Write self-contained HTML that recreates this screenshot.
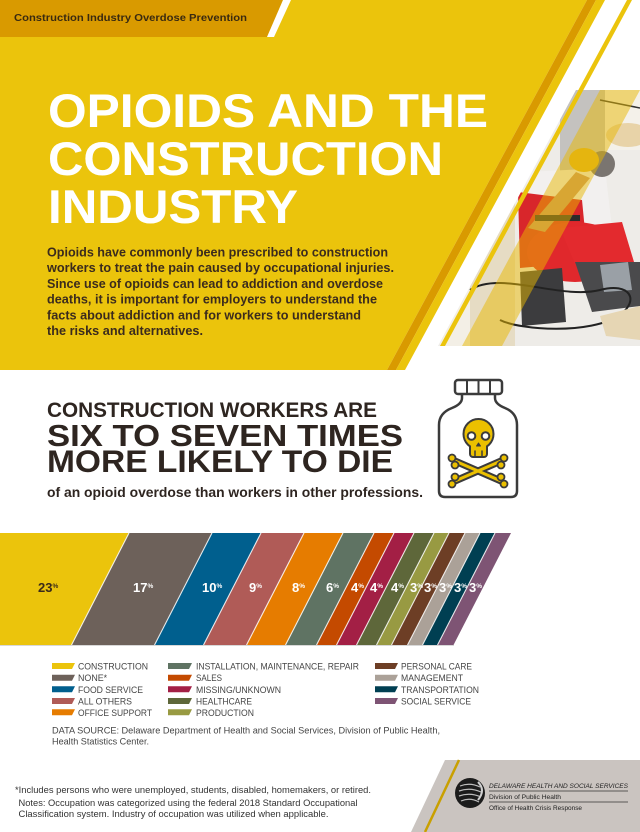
<!DOCTYPE html>
<html><head><meta charset="utf-8"><style>
html,body{margin:0;padding:0;background:#fff;}
svg{display:block;}
text{font-family:"Liberation Sans",Arial,sans-serif;}
</style></head><body>
<svg width="640" height="832" viewBox="0 0 640 832" xmlns="http://www.w3.org/2000/svg">
<defs>
<clipPath id="ph"><polygon points="576,90 640,90 640,346 438,346"/></clipPath>
</defs>
<rect width="640" height="832" fill="#fff"/>
<!-- top yellow section -->
<polygon points="0,0 587,0 387,370 0,370" fill="#ebc40c"/>
<polygon points="587,0 596,0 396,370 387,370" fill="#d99a00"/>
<polygon points="596,0 605,0 405,370 396,370" fill="#ebc40c"/>
<!-- header band -->
<polygon points="0,0 283,0 267,37 0,37" fill="#d99a00"/>
<polygon points="283,0 291,0 274,37 267,37" fill="#fff"/>
<text x="14" y="21" font-size="10.5" font-weight="bold" fill="#3a2a10" textLength="233" lengthAdjust="spacingAndGlyphs">Construction Industry Overdose Prevention</text>

<!-- photo -->
<g clip-path="url(#ph)">
<rect x="430" y="90" width="210" height="256" fill="#eeece8"/>
<rect x="560" y="90" width="45" height="110" fill="#c4c2bf"/>
<rect x="605" y="90" width="35" height="60" fill="#f4f1ea"/>
<polygon points="470,200 515,200 515,346 470,346" fill="#e6dcc4"/>
<polygon points="440,260 470,260 470,346 440,346" fill="#f3efe6"/>
<ellipse cx="628" cy="135" rx="22" ry="12" fill="#e8d3a8"/>
<!-- worker -->
<polygon points="527,172 605,168 612,228 527,228" fill="#f2f0ef"/>
<polygon points="518,192 582,200 588,262 520,268" fill="#d8262b"/>
<ellipse cx="575" cy="252" rx="48" ry="30" fill="#e0282c"/>
<polygon points="560,228 622,222 634,262 585,288" fill="#e32a2e"/>
<polygon points="520,272 562,268 566,322 522,326" fill="#3c3c3e"/>
<polygon points="575,262 640,262 640,306 592,312" fill="#4a4a4c"/>
<polygon points="600,265 628,262 632,290 604,292" fill="#9aa0a6"/>
<polygon points="528,228 576,172 590,178 545,232" fill="#c99566"/>
<circle cx="602" cy="164" r="13" fill="#7a7570"/>
<ellipse cx="584" cy="160" rx="15" ry="12" fill="#e2b21f"/>
<rect x="535" y="215" width="45" height="6" fill="#2b2b2b"/>
<path d="M470,290 C500,270 560,300 600,290 C630,282 640,300 620,315 C590,335 520,330 500,320" stroke="#222" stroke-width="2" fill="none"/>
<polygon points="600,316 640,306 640,340 606,336" fill="#e6d6b4"/>
<path d="M600,100 L640,108" stroke="#333" stroke-width="1.5"/>
<!-- yellow overlay band -->
<polygon points="600,90 640,90 502,346 462,346" fill="#e8b800" opacity="0.5"/>
</g>
<polygon points="627,0 632,0 445,346 440,346" fill="#ebc40c"/>

<!-- title -->
<g font-weight="bold" fill="#ffffff" font-size="47">
<text x="48" y="127" textLength="440" lengthAdjust="spacingAndGlyphs">OPIOIDS AND THE</text>
<text x="48" y="175" textLength="395" lengthAdjust="spacingAndGlyphs">CONSTRUCTION</text>
<text x="48" y="223" textLength="250" lengthAdjust="spacingAndGlyphs">INDUSTRY</text>
</g>
<g font-weight="bold" fill="#3b2b1d" font-size="12.6">
<text x="47" y="256.5" textLength="341" lengthAdjust="spacingAndGlyphs">Opioids have commonly been prescribed to construction</text>
<text x="47" y="272.2" textLength="347" lengthAdjust="spacingAndGlyphs">workers to treat the pain caused by occupational injuries.</text>
<text x="47" y="287.9" textLength="336" lengthAdjust="spacingAndGlyphs">Since use of opioids can lead to addiction and overdose</text>
<text x="47" y="303.6" textLength="330" lengthAdjust="spacingAndGlyphs">deaths, it is important for employers to understand the</text>
<text x="47" y="319.3" textLength="314" lengthAdjust="spacingAndGlyphs">facts about addiction and for workers to understand</text>
<text x="47" y="335" textLength="156" lengthAdjust="spacingAndGlyphs">the risks and alternatives.</text>
</g>

<!-- section 2 -->
<g font-weight="bold" fill="#2e2520">
<text x="47" y="417" font-size="21" textLength="330" lengthAdjust="spacingAndGlyphs">CONSTRUCTION WORKERS ARE</text>
<text x="47" y="446" font-size="31" textLength="356" lengthAdjust="spacingAndGlyphs">SIX TO SEVEN TIMES</text>
<text x="47" y="472" font-size="31.5" textLength="346" lengthAdjust="spacingAndGlyphs">MORE LIKELY TO DIE</text>
<text x="47" y="497" font-size="13.9" textLength="376" lengthAdjust="spacingAndGlyphs">of an opioid overdose than workers in other professions.</text>
</g>

<!-- bottle icon -->
<g stroke="#3b3b3b" stroke-width="2.5" stroke-linejoin="round" stroke-linecap="round">
<path d="M462,394 L462,398 Q462,404 452,408 Q439,413 439,425 L439,491 Q439,497 445,497 L511,497 Q517,497 517,491 L517,425 Q517,413 505,408 Q495,404 495,398 L495,394" fill="#fff"/>
<rect x="455" y="380" width="47" height="14" rx="3" fill="#fff"/>
<line x1="467" y1="381" x2="467" y2="393" stroke-width="2"/>
<line x1="478.5" y1="381" x2="478.5" y2="393" stroke-width="2"/>
<line x1="490" y1="381" x2="490" y2="393" stroke-width="2"/>
<!-- crossbones -->
<line x1="455" y1="461" x2="501" y2="481" stroke-width="7"/>
<line x1="455" y1="481" x2="501" y2="461" stroke-width="7"/>
<line x1="455" y1="461" x2="501" y2="481" stroke="#ebc000" stroke-width="3"/>
<line x1="455" y1="481" x2="501" y2="461" stroke="#ebc000" stroke-width="3"/>
<g fill="#ebc000" stroke-width="1.8">
<circle cx="452" cy="458" r="3.5"/><circle cx="455" cy="465" r="3.5"/>
<circle cx="504" cy="484" r="3.5"/><circle cx="501" cy="477" r="3.5"/>
<circle cx="452" cy="484" r="3.5"/><circle cx="455" cy="477" r="3.5"/>
<circle cx="504" cy="458" r="3.5"/><circle cx="501" cy="465" r="3.5"/>
</g>
<!-- skull -->
<rect x="470" y="438" width="17" height="19" rx="3" fill="#ebc000" stroke-width="2"/>
<circle cx="478.5" cy="434" r="15" fill="#ebc000" stroke-width="2"/>
<rect x="471" y="440" width="15" height="10" fill="#ebc000" stroke="none"/>
<circle cx="471.5" cy="436" r="3.8" fill="#fff" stroke-width="2"/>
<circle cx="485.5" cy="436" r="3.8" fill="#fff" stroke-width="2"/>
<path d="M476.5,446 L478.5,443 L480.5,446 Z" fill="#3b3b3b" stroke-width="1"/>
<line x1="475" y1="451" x2="475" y2="456" stroke-width="1.5"/>
<line x1="482" y1="451" x2="482" y2="456" stroke-width="1.5"/>
</g>

<!-- chart -->
<polygon points="0,533 129,533 71.5,645 0,645" fill="#ebc40c"/>
<polygon points="129,533 212,533 154.5,645 71.5,645" fill="#6d615a"/>
<polygon points="212,533 261,533 203.5,645 154.5,645" fill="#005f8e"/>
<polygon points="261,533 304,533 246.5,645 203.5,645" fill="#b05b57"/>
<polygon points="304,533 343,533 285.5,645 246.5,645" fill="#e67c00"/>
<polygon points="343,533 374,533 316.5,645 285.5,645" fill="#5f7363"/>
<polygon points="374,533 394,533 336.5,645 316.5,645" fill="#c44a00"/>
<polygon points="394,533 414,533 356.5,645 336.5,645" fill="#a31f45"/>
<polygon points="414,533 434,533 376.5,645 356.5,645" fill="#5e673a"/>
<polygon points="434,533 449,533 391.5,645 376.5,645" fill="#989a42"/>
<polygon points="449,533 465,533 407.5,645 391.5,645" fill="#6d3e25"/>
<polygon points="465,533 480,533 422.5,645 407.5,645" fill="#aba198"/>
<polygon points="480,533 495,533 437.5,645 422.5,645" fill="#003f52"/>
<polygon points="495,533 511,533 453.5,645 437.5,645" fill="#7e5474"/>
<g stroke="#ffffff" stroke-width="1.1" opacity="0.85">
<line x1="129" y1="533" x2="71.5" y2="645"/><line x1="212" y1="533" x2="154.5" y2="645"/>
<line x1="261" y1="533" x2="203.5" y2="645"/><line x1="304" y1="533" x2="246.5" y2="645"/>
<line x1="343" y1="533" x2="285.5" y2="645"/><line x1="374" y1="533" x2="316.5" y2="645"/>
<line x1="394" y1="533" x2="336.5" y2="645"/><line x1="414" y1="533" x2="356.5" y2="645"/>
<line x1="434" y1="533" x2="376.5" y2="645"/><line x1="449" y1="533" x2="391.5" y2="645"/>
<line x1="465" y1="533" x2="407.5" y2="645"/><line x1="480" y1="533" x2="422.5" y2="645"/>
<line x1="495" y1="533" x2="437.5" y2="645"/>
</g>
<line x1="0" y1="645.5" x2="454" y2="645.5" stroke="#d8d8d8" stroke-width="1"/>
<g font-weight="bold" font-size="13" fill="#ffffff">
<text x="38" y="592" fill="#3a2a1a">23<tspan font-size="6.5" dy="-4">%</tspan></text>
<text x="133" y="592">17<tspan font-size="6.5" dy="-4">%</tspan></text>
<text x="202" y="592">10<tspan font-size="6.5" dy="-4">%</tspan></text>
<text x="249" y="592">9<tspan font-size="6.5" dy="-4">%</tspan></text>
<text x="292" y="592">8<tspan font-size="6.5" dy="-4">%</tspan></text>
<text x="326" y="592">6<tspan font-size="6.5" dy="-4">%</tspan></text>
<text x="351" y="592">4<tspan font-size="6.5" dy="-4">%</tspan></text>
<text x="370" y="592">4<tspan font-size="6.5" dy="-4">%</tspan></text>
<text x="391" y="592">4<tspan font-size="6.5" dy="-4">%</tspan></text>
<text x="410" y="592">3<tspan font-size="6.5" dy="-4">%</tspan></text>
<text x="424" y="592">3<tspan font-size="6.5" dy="-4">%</tspan></text>
<text x="439" y="592">3<tspan font-size="6.5" dy="-4">%</tspan></text>
<text x="454" y="592">3<tspan font-size="6.5" dy="-4">%</tspan></text>
<text x="469" y="592">3<tspan font-size="6.5" dy="-4">%</tspan></text>
</g>

<!-- legend -->
<g>
<polygon points="52,663 75,663 72,669 52,669" fill="#ebc40c"/>
<polygon points="52,674.7 75,674.7 72,680.7 52,680.7" fill="#6d615a"/>
<polygon points="52,686.3 75,686.3 72,692.3 52,692.3" fill="#005f8e"/>
<polygon points="52,698 75,698 72,704 52,704" fill="#b05b57"/>
<polygon points="52,709.3 75,709.3 72,715.3 52,715.3" fill="#e67c00"/>
<polygon points="168,663 192,663 189,669 168,669" fill="#5f7363"/>
<polygon points="168,674.7 192,674.7 189,680.7 168,680.7" fill="#c44a00"/>
<polygon points="168,686.3 192,686.3 189,692.3 168,692.3" fill="#a31f45"/>
<polygon points="168,698 192,698 189,704 168,704" fill="#5e673a"/>
<polygon points="168,709.3 192,709.3 189,715.3 168,715.3" fill="#989a42"/>
<polygon points="375,663 398,663 395,669 375,669" fill="#6d3e25"/>
<polygon points="375,674.7 398,674.7 395,680.7 375,680.7" fill="#aba198"/>
<polygon points="375,686.3 398,686.3 395,692.3 375,692.3" fill="#003f52"/>
<polygon points="375,698 398,698 395,704 375,704" fill="#7e5474"/>
</g>
<g font-size="8.9" fill="#454545">
<text x="78" y="669.5" textLength="70" lengthAdjust="spacingAndGlyphs">CONSTRUCTION</text>
<text x="78" y="681.2">NONE*</text>
<text x="78" y="692.8" textLength="65" lengthAdjust="spacingAndGlyphs">FOOD SERVICE</text>
<text x="78" y="704.5" textLength="54" lengthAdjust="spacingAndGlyphs">ALL OTHERS</text>
<text x="78" y="715.8" textLength="74" lengthAdjust="spacingAndGlyphs">OFFICE SUPPORT</text>
<text x="196" y="669.5" textLength="163" lengthAdjust="spacingAndGlyphs">INSTALLATION, MAINTENANCE, REPAIR</text>
<text x="196" y="681.2" textLength="26" lengthAdjust="spacingAndGlyphs">SALES</text>
<text x="196" y="692.8" textLength="85" lengthAdjust="spacingAndGlyphs">MISSING/UNKNOWN</text>
<text x="196" y="704.5" textLength="56" lengthAdjust="spacingAndGlyphs">HEALTHCARE</text>
<text x="196" y="715.8" textLength="58" lengthAdjust="spacingAndGlyphs">PRODUCTION</text>
<text x="401" y="669.5" textLength="71" lengthAdjust="spacingAndGlyphs">PERSONAL CARE</text>
<text x="401" y="681.2" textLength="62" lengthAdjust="spacingAndGlyphs">MANAGEMENT</text>
<text x="401" y="692.8" textLength="78" lengthAdjust="spacingAndGlyphs">TRANSPORTATION</text>
<text x="401" y="704.5" textLength="70" lengthAdjust="spacingAndGlyphs">SOCIAL SERVICE</text>
<text x="52" y="733.5" textLength="388" lengthAdjust="spacingAndGlyphs">DATA SOURCE: Delaware Department of Health and Social Services, Division of Public Health,</text>
<text x="52" y="744.5" textLength="97" lengthAdjust="spacingAndGlyphs">Health Statistics Center.</text>
</g>

<!-- footer -->
<g font-size="8.8" fill="#333">
<text x="15" y="793" textLength="356" lengthAdjust="spacingAndGlyphs">*Includes persons who were unemployed, students, disabled, homemakers, or retired.</text>
<text x="18.5" y="806" textLength="339" lengthAdjust="spacingAndGlyphs">Notes: Occupation was categorized using the federal 2018 Standard Occupational</text>
<text x="18.5" y="817" textLength="310" lengthAdjust="spacingAndGlyphs">Classification system. Industry of occupation was utilized when applicable.</text>
</g>
<polygon points="445,760 640,760 640,832 411,832" fill="#cac4c0"/>
<line x1="459" y1="760" x2="425" y2="832" stroke="#c9a000" stroke-width="2.5"/>
<circle cx="470" cy="793" r="15" fill="#1c1c1c"/>
<g fill="none" stroke="#bdbdbd" stroke-width="1.2">
<path d="M460,786 Q470,782 480,787"/><path d="M459,791 Q470,787 481,792"/>
<path d="M459,796 Q470,792 481,797"/><path d="M461,801 Q470,797 479,802"/>
</g>
<path d="M478,782 Q486,790 478,800" stroke="#cfcfcf" stroke-width="2" fill="none"/>
<text x="489" y="788" font-size="6.6" font-style="italic" fill="#222" textLength="139" lengthAdjust="spacingAndGlyphs">DELAWARE HEALTH AND SOCIAL SERVICES</text>
<line x1="489" y1="791" x2="628" y2="791" stroke="#333" stroke-width="0.8"/>
<text x="489" y="799" font-size="6" fill="#222" textLength="72" lengthAdjust="spacingAndGlyphs">Division of Public Health</text>
<line x1="489" y1="802" x2="628" y2="802" stroke="#333" stroke-width="0.8"/>
<text x="489" y="810" font-size="6" fill="#222" textLength="93" lengthAdjust="spacingAndGlyphs">Office of Health Crisis Response</text>
</svg>
</body></html>
